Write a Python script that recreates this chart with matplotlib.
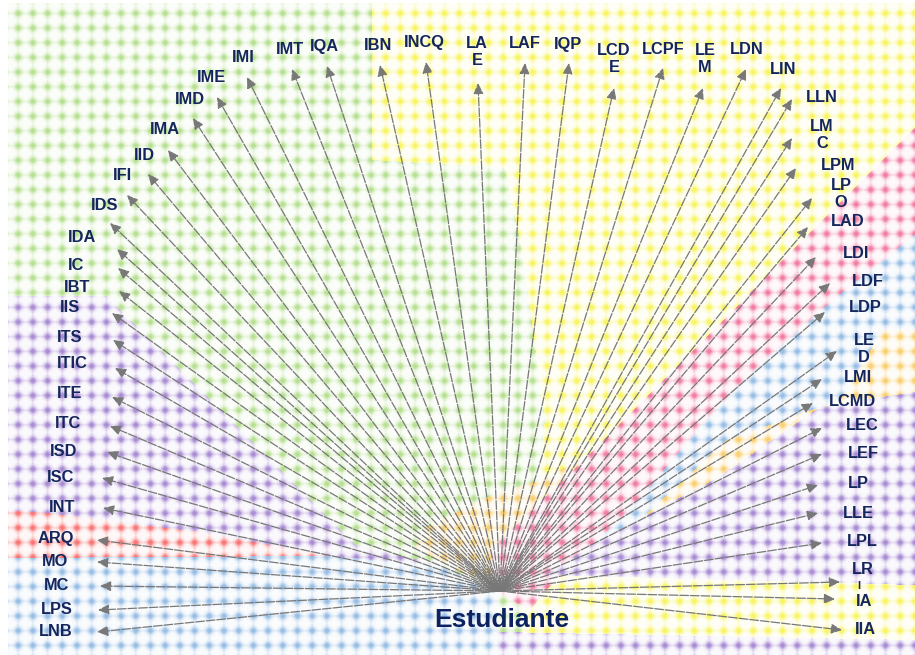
import numpy as np
import matplotlib
matplotlib.use("Agg")
import matplotlib.pyplot as plt
from matplotlib.path import Path

# ---------------- data ----------------
hub_label = "Estudiante"
hub_xy = (500, 591)

labels = ["IMI", "IMT", "IQA", "IBN", "INCQ", "IME", "IMD", "IMA", "IID", "IFI",
          "IDS", "IDA", "IC", "IBT", "IIS", "ITS", "ITIC", "ITE", "ITC", "ISD",
          "ISC", "INT", "ARQ", "MO", "MC", "LPS", "LNB",
          "LA\nE", "LAF", "IQP", "LCD\nE", "LCPF", "LE\nM", "LDN", "LIN", "LLN",
          "LM\nC", "LPM", "LP\nO", "LAD", "LDI", "LDF", "LDP", "LE\nD", "LMI",
          "LCMD", "LEC", "LEF", "LP", "LLE", "LPL", "LR", "IA", "IIA"]

tip_x = [247, 292, 327, 380, 426, 217, 193, 168, 148, 127,
         110, 117, 118, 119, 112, 113, 115, 112, 110, 107,
         102, 103, 97, 97, 100, 98, 97,
         478, 525, 569, 614, 663, 703, 746, 781, 792,
         792, 796, 812, 808, 816, 830, 825, 837, 822,
         813, 822, 822, 818, 818, 822, 840, 835, 842]
tip_y = [77, 69, 66, 65, 62, 97, 118, 150, 174, 195,
         223, 249, 268, 291, 313, 340, 368, 397, 426, 452,
         478, 508, 540, 562, 586, 610, 632,
         83, 63, 63, 88, 68, 88, 69, 88, 99,
         138, 168, 198, 227, 257, 283, 312, 351, 379,
         403, 428, 454, 485, 513, 543, 582, 599, 630]

label_x = [243, 290, 324, 378, 424, 212, 190, 165, 144, 123,
           105, 82, 76, 77, 70, 70, 72, 70, 68, 64,
           61, 62, 56, 55, 57, 57, 56,
           477, 525, 568, 614, 663, 705, 747, 783, 822,
           822, 838, 841, 848, 856, 868, 865, 864, 858,
           852, 862, 863, 858, 858, 862, 863, 864, 865]
label_y = [58, 50, 47, 45, 43, 78, 100, 130, 155, 176,
           205, 237, 266, 288, 308, 338, 364, 394, 423, 452,
           477, 507, 538, 562, 586, 610, 632,
           52, 43, 45, 59, 50, 59, 50, 70, 97,
           135, 165, 194, 222, 254, 281, 308, 349, 377,
           401, 426, 453, 483, 513, 541, 570, 601, 630]

# ---------------- figure ----------------
W, H = 915, 655
fig = plt.figure(figsize=(9.15, 6.55), dpi=100)
ax = fig.add_axes([0, 0, 1, 1])

# dotted coloured background regions (decoration)
palette = {
    "green":  (0.58, 0.82, 0.36),
    "yellow": (0.96, 0.94, 0.08),
    "purple": (0.50, 0.33, 0.75),
    "red":    (0.96, 0.20, 0.20),
    "blue":   (0.40, 0.62, 0.85),
    "orange": (0.97, 0.72, 0.16),
    "pink":   (0.92, 0.24, 0.46),
}
regions = [
    ("green",  [(0, 0), (W, 0), (W, H), (0, H)]),
    ("yellow", [(372, 0), (W, 0), (W, H), (520, H), (525, 600), (545, 420),
                (522, 250), (505, 168), (372, 160)]),
    ("purple", [(0, 296), (106, 296), (355, 545), (440, 565), (0, 565)]),
    ("red",    [(0, 510), (40, 512), (200, 532), (330, 556), (0, 558)]),
    ("blue",   [(0, 558), (330, 556), (440, 566), (497, 592), (497, H), (0, H)]),
    ("orange", [(497, 591), (415, 548), (425, 528), (480, 500), (545, 478),
                (598, 450), (560, 520)]),
    ("pink",   [(497, 592), (490, 550), (597, 447), (743, 300), (W, 128),
                (W, 235), (833, 300), (757, 367), (700, 427), (633, 507),
                (560, 575), (530, 610)]),
    ("blue",   [(W, 235), (W, 330), (883, 330), (840, 400), (727, 440),
                (640, 520), (560, 575), (633, 507), (700, 427), (757, 367),
                (833, 300)]),
    ("orange", [(883, 330), (W, 330), (W, 392), (820, 407), (717, 478),
                (640, 520), (727, 440), (840, 400)]),
    ("purple", [(W, 392), (W, 585), (545, 575), (600, 540), (717, 478),
                (820, 407)]),
    ("purple", [(497, 632), (W, 640), (W, H), (497, H)]),
]

yy, xx = np.mgrid[0:H, 0:W] + 0.5
pts = np.column_stack([xx.ravel(), yy.ravel()])
col = np.ones((H * W, 3))
for name, poly in regions:
    m = Path(poly).contains_points(pts)
    col[m] = palette[name]
col = col.reshape(H, W, 3)

s = 14.7
dx = ((xx - 3.5 + s / 2) % s) - s / 2
dy = ((yy - 13.3 + s / 2) % s) - s / 2
d = np.abs(dx) + np.abs(dy)
r = np.hypot(dx, dy)
a = 0.74 * np.exp(-(0.5 * d + 0.5 * r) ** 2 / 4.2 ** 2)
a -= 0.10 * np.exp(-(r / 1.3) ** 2)
# faint cross-hatch between dots
cross = np.minimum(np.abs(dx), np.abs(dy))
a += 0.10 * np.exp(-(cross / 1.2) ** 2) * (r > 5)
a = np.clip(a, 0, 1) + 0.03
img = 1 - a[..., None] * (1 - col)
img[(xx < 8) | (yy < 3)] = 1.0
ax.imshow(img, extent=(0, W, H, 0), interpolation="bilinear", zorder=0,
          aspect="auto")

# arrows
for i, (tx, ty) in enumerate(zip(tip_x, tip_y)):
    ax.annotate("", xy=(tx, ty), xytext=hub_xy,
                arrowprops=dict(arrowstyle="-|>,head_length=0.65,head_width=0.3",
                                color="#787878", lw=0.9,
                                linestyle=((i * 2.3) % 8.5, (7, 1.5)),
                                shrinkA=0, shrinkB=0, mutation_scale=10),
                zorder=2)

# labels
navy = "#14265c"
for lab, lx, ly in zip(labels, label_x, label_y):
    ax.text(lx, ly, lab, ha="center", va="center", fontsize=11.8,
            fontweight="bold", color=navy, family="Liberation Sans",
            linespacing=1.15, zorder=3)
# small stray glyph above "IA"
ax.text(859, 586, "I", ha="center", va="center", fontsize=8,
        fontweight="bold", color=navy, family="Liberation Sans", zorder=3)

ax.text(502, 620, hub_label, ha="center", va="center", fontsize=19,
        fontweight="bold", color="#0d2260", family="Liberation Sans", zorder=3)

ax.set_xlim(0, W)
ax.set_ylim(H, 0)
ax.axis("off")
fig.savefig("out.png", dpi=100)
